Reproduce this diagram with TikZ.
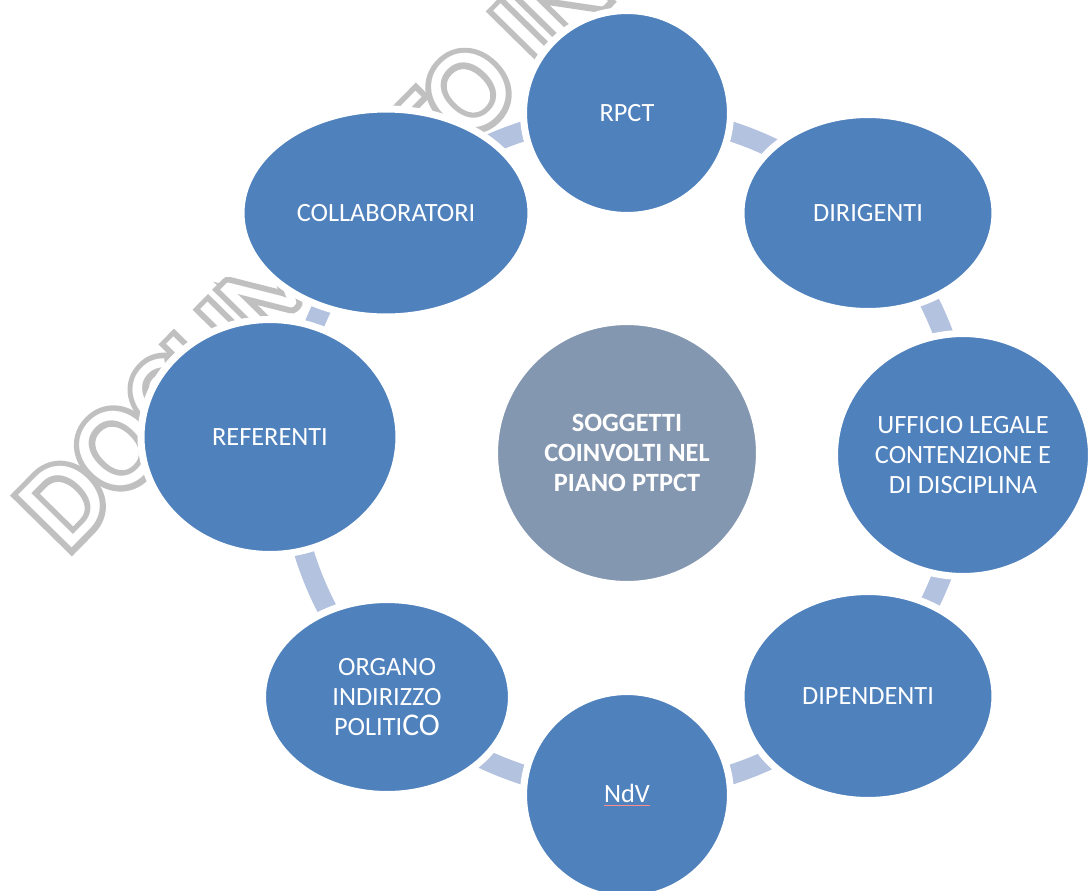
\documentclass[tikz,border=0pt]{standalone}
\usepackage{fontspec}
\setmainfont{Carlito}
\newfontfamily\wmthick[FakeBold=10]{Carlito}
\usetikzlibrary{shapes.geometric}
\definecolor{ringblue}{HTML}{B3C2DE}
\definecolor{nodeblue}{HTML}{4F81BD}
\definecolor{hubgray}{HTML}{8497B0}
\definecolor{wmgray}{HTML}{C0C0C0}

\begin{document}
\begin{tikzpicture}[%
			x=0.02cm,
			y=-0.02cm,
			font=\fontsize{15}{17}\selectfont,
			member/.style={%
				ellipse,
				fill=nodeblue,
				draw=white,
				line width=4pt,
				text=white,
				align=center,
				inner sep=0pt
			},
			hub/.style={%
				member,
				fill=hubgray,
				font=\fontsize{15}{17}\selectfont\bfseries
			},
			wmark/.style={%
				rotate=45.5,
				anchor=base west,
				inner sep=0pt,
				font=\fontsize{66.6}{70}\selectfont
			}
			]
			\clip (0,0) rectangle (1089,890);
			\node[wmark] (wm) at (66,554) {\rlap{\wmthick\color{wmgray}DOCUMENTO IN}\textcolor{white}{DOCUMENTO IN}};
			\draw[ringblue, line width=11.3pt] (627,453) circle[radius=6.76cm];

			\node[member, minimum width=4.14cm, minimum height=4.10cm] (rpct) at (627,113) {RPCT};
			\node[member, minimum width=5.08cm, minimum height=3.94cm] (dir) at (868,213) {DIRIGENTI};
			\node[member, minimum width=5.14cm, minimum height=4.86cm] (uff) at (963,455) {UFFICIO LEGALE\\CONTENZIONE E\\DI DISCIPLINA};
			\node[member, minimum width=5.08cm, minimum height=4.18cm] (dip) at (868,696) {DIPENDENTI};
			\node[member, minimum width=4.14cm, minimum height=4.14cm] (ndv) at (627,795) {{\color{red!45}\underline{\textcolor{white}{NdV}}}};
			\node[member, minimum width=4.98cm, minimum height=3.90cm] (org) at (387,697) {ORGANO\\INDIRIZZO\\POLITI{\fontsize{18}{17}\selectfont CO}};
			\node[member, minimum width=5.16cm, minimum height=4.70cm] (ref) at (270,437) {REFERENTI};
			\node[member, minimum width=5.80cm, minimum height=4.16cm] (coll) at (386,213) {COLLABORATORI};

			\node[hub, minimum width=5.30cm, minimum height=5.26cm] (ptpct) at (627,453) {SOGGETTI\\COINVOLTI NEL\\PIANO PTPCT};
\end{tikzpicture}
\end{document}
